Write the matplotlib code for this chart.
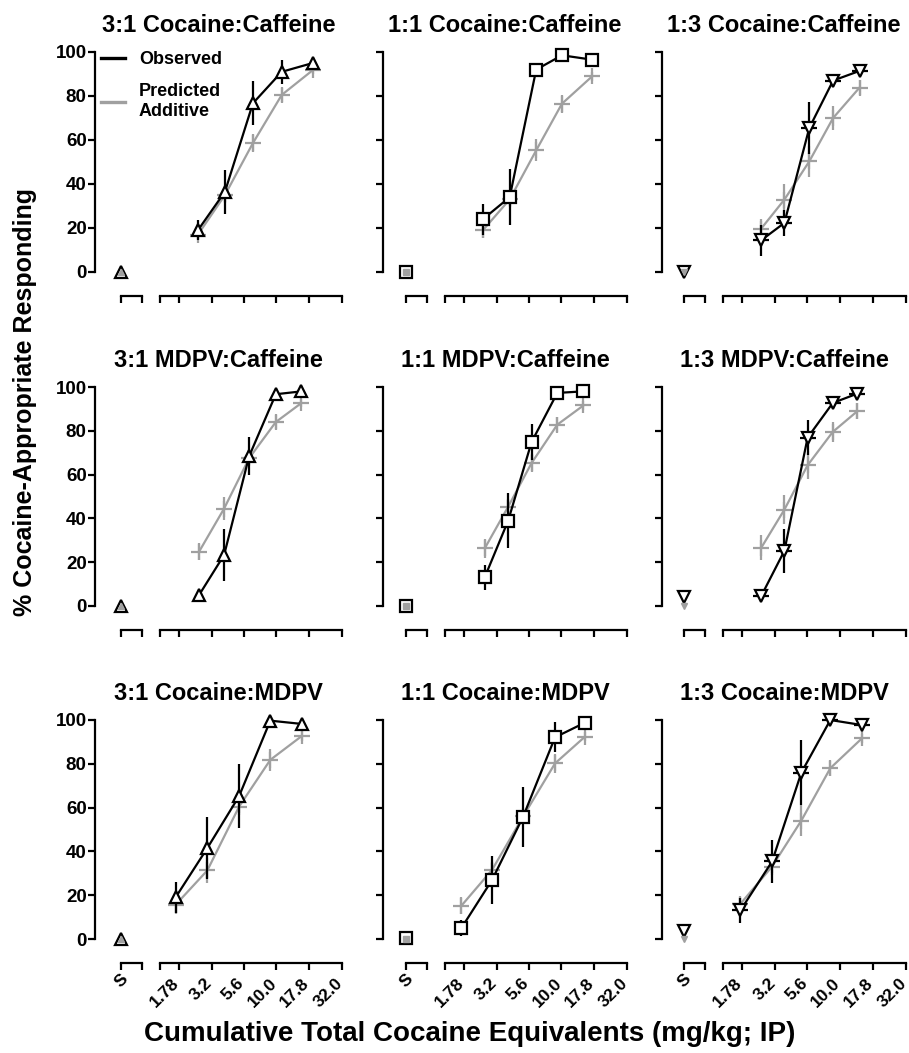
"""Drug-discrimination dose-effect curves for cocaine / MDPV / caffeine mixtures.

3 x 3 grid of panels, GraphPad-style: offset y axis, broken x axis with a
separate "S" (saline) segment and a log-scaled cumulative-dose segment.
Observed = black open symbols, Predicted Additive = grey crosses.
"""
import matplotlib
matplotlib.use("Agg")
import matplotlib.pyplot as plt
from matplotlib.lines import Line2D
from matplotlib.transforms import ScaledTranslation

# ---------------------------------------------------------------------------
# Data
# ---------------------------------------------------------------------------
titles = [
    "3:1 Cocaine:Caffeine", "1:1 Cocaine:Caffeine", "1:3 Cocaine:Caffeine",
    "3:1 MDPV:Caffeine", "1:1 MDPV:Caffeine", "1:3 MDPV:Caffeine",
    "3:1 Cocaine:MDPV", "1:1 Cocaine:MDPV", "1:3 Cocaine:MDPV",
]

dose = [
    [2.49, 4.02, 6.6, 11.0, 19.1],
    [2.49, 4.0, 6.4, 10.1, 17.3],
    [2.49, 3.75, 5.82, 8.85, 14.1],
    [2.54, 3.96, 6.17, 9.9, 15.6],
    [2.57, 3.89, 5.9, 9.3, 14.8],
    [2.50, 3.75, 5.65, 8.8, 13.6],
    [1.68, 2.94, 5.17, 8.98, 15.7],
    [1.70, 2.93, 5.08, 8.94, 15.2],
    [1.73, 3.02, 5.06, 8.43, 14.7],
]

obs = [
    [19, 36.5, 76.7, 91, 95],
    [24, 34, 92, 98.5, 96.5],
    [14.4, 22.3, 65.5, 87, 91.4],
    [5, 23.3, 68.4, 96.7, 98],
    [13.1, 38.9, 74.9, 97.3, 98],
    [4.7, 25.2, 76.9, 92.7, 97],
    [19.1, 41.5, 65.3, 99.7, 98.2],
    [5, 27, 55.9, 92.1, 98.8],
    [13.1, 35.4, 76, 100, 97.7],
]
obs_err = [
    [4.5, 10, 10, 5.5, 1],
    [7, 12.7, 2.5, 0.5, 0.5],
    [7, 6, 11.7, 3, 1],
    [2.5, 11.8, 8.7, 1, 1],
    [5.7, 12.5, 8.4, 0.5, 0.5],
    [1, 10, 8, 2, 1],
    [7, 14, 14.4, 0.5, 1],
    [3.5, 11, 13.7, 6.8, 0.5],
    [5.7, 10, 14.8, 0.5, 1],
]

pred = [
    [17, 35, 58.6, 80.5, 91.8],
    [19, 33, 55.3, 76.5, 89],
    [19.7, 32.9, 50.3, 70, 83.8],
    [24.8, 44.5, 67.5, 84, 92.7],
    [26.3, 45.3, 65.3, 82.8, 91.6],
    [26.7, 44, 64.3, 79.5, 89],
    [15.7, 31.3, 60.5, 81.8, 92.7],
    [15.2, 31.6, 56, 80.2, 92.4],
    [16.1, 33.1, 54.1, 78, 91.6],
]
pred_err = [
    [2, 3, 4, 3, 2],
    [3.5, 3, 5, 4, 2],
    [4.5, 7, 7, 5.5, 3.4],
    [3.8, 5.3, 3, 3, 2],
    [4.5, 3, 4, 3.5, 2],
    [5.7, 6.5, 6.5, 4.5, 3.5],
    [4.5, 5.7, 3, 5, 2.5],
    [3.8, 3, 2, 4.5, 2],
    [3, 3, 7, 3.5, 2],
]

# saline point (S) for each panel
s_obs = [0, 0, 0, 0, 0, 4.2, 0, 0.5, 3.5]
s_pred = [0, 0, 0, 0, 0, 0, 0, 0, 0]

col_markers = ["^", "s", "v"]
dose_ticks = [1.78, 3.2, 5.6, 10.0, 17.8, 32.0]
dose_labels = ["1.78", "3.2", "5.6", "10.0", "17.8", "32.0"]
y_ticks = [0, 20, 40, 60, 80, 100]

# ---------------------------------------------------------------------------
# Layout (pixel positions on a 909 x 1053 canvas)
# ---------------------------------------------------------------------------
W, H, DPI = 909, 1053, 100
ROW_Y100 = [52, 387, 720]
ROW_Y0 = [272, 606, 939]
COL_SPINE = [95, 383, 662]
COL_S = [121, 406, 684]
COL_MAIN = [160, 445, 723]
COL_END = [342, 627, 906]
S_W = 21
X_OFFSET_PX = 24
X_LO = 1.271

GREY = "#a0a0a0"
FONT = ["Liberation Sans", "DejaVu Sans"]
plt.rcParams["font.family"] = FONT
plt.rcParams["font.weight"] = "bold"


def px2pt(px):
    return px * 72.0 / DPI


def style_axes(ax, show_left):
    ax.set_facecolor("none")
    for side in ("top", "right"):
        ax.spines[side].set_visible(False)
    ax.spines["bottom"].set_position(("outward", px2pt(X_OFFSET_PX)))
    ax.spines["bottom"].set_linewidth(1.6)
    if show_left:
        ax.spines["left"].set_linewidth(1.6)
    else:
        ax.spines["left"].set_visible(False)
        ax.tick_params(axis="y", left=False, labelleft=False)
    ax.tick_params(direction="out", length=5, width=1.6, labelsize=13.5)
    ax.tick_params(axis="y", pad=1)
    ax.tick_params(axis="x", pad=8)
    ax.set_ylim(0, 100)


fig = plt.figure(figsize=(W / DPI, H / DPI), dpi=DPI)
bottom_axes = []

for i in range(9):
    r, c = divmod(i, 3)
    y100, y0 = ROW_Y100[r], ROW_Y0[r]
    bottom = 1 - y0 / H
    height = (y0 - y100) / H
    m = col_markers[c]

    # ---- saline segment (carries the y axis) ----------------------------
    ax_s = fig.add_axes([COL_S[c] / W, bottom, S_W / W, height])
    style_axes(ax_s, show_left=True)
    ax_s.spines["left"].set_position(("outward", px2pt(COL_S[c] - COL_SPINE[c])))
    ax_s.set_xlim(0, 1)
    ax_s.set_xticks([0, 1])
    ax_s.set_yticks(y_ticks)
    if c != 0:
        ax_s.tick_params(axis="y", labelleft=False)
    if r == 2:
        ax_s.set_xticklabels(["S", ""], rotation=45, ha="center",
                             rotation_mode="anchor", va="center", fontsize=12.5)
    else:
        ax_s.set_xticklabels(["", ""])
    ax_s.plot([0], [s_obs[i]], marker=m, ms=9, mfc="white", mec="black",
              mew=1.6, ls="none", clip_on=False, zorder=3)
    ax_s.plot([0], [s_pred[i]], marker=m, ms=5, mfc=GREY, mec=GREY,
              ls="none", clip_on=False, zorder=4)

    # ---- cumulative dose segment ----------------------------------------
    ax_m = fig.add_axes([COL_MAIN[c] / W, bottom,
                         (COL_END[c] - COL_MAIN[c]) / W, height])
    style_axes(ax_m, show_left=False)
    ax_m.set_xscale("log")
    ax_m.set_xlim(X_LO, 32)
    ax_m.minorticks_off()
    ax_m.set_xticks([X_LO] + dose_ticks)
    if r == 2:
        ax_m.set_xticklabels([""] + dose_labels, rotation=45, ha="right",
                             rotation_mode="anchor", va="center", fontsize=12.5)
        bottom_axes.append(ax_m)
    else:
        ax_m.set_xticklabels([""] * (len(dose_ticks) + 1))

    ax_m.errorbar(dose[i], pred[i], yerr=pred_err[i], color=GREY, lw=1.6,
                  elinewidth=1.6, capsize=0, marker="+", ms=11, mew=1.6,
                  clip_on=False, zorder=2)
    if c == 2:
        ax_m.plot(dose[i], obs[i], marker="_", ms=12, mew=1.6, color="black",
                  ls="none", clip_on=False, zorder=3)
    ax_m.errorbar(dose[i], obs[i], yerr=obs_err[i], color="black", lw=1.6,
                  elinewidth=1.6, capsize=0, marker=m, ms=9, mfc="white",
                  mec="black", mew=1.6, clip_on=False, zorder=4)

    fig.text((COL_SPINE[c] + COL_END[c]) / 2 / W, 1 - (y100 - 20) / H,
             titles[i], ha="center", va="baseline", fontsize=17,
             fontweight="bold")

# legend in the first panel
handles = [Line2D([], [], color="black", lw=2.4),
           Line2D([], [], color=GREY, lw=2.4)]
fig.legend(handles, ["Observed", "Predicted\nAdditive"], loc="upper left",
           bbox_to_anchor=(101 / W, 1 - 51 / H), frameon=False,
           handlelength=1.35, handletextpad=0.75, labelspacing=0.85,
           borderpad=0, borderaxespad=0, prop={"weight": "bold", "size": 13})

fig.text(25 / W, 1 - 402 / H, "% Cocaine-Appropriate Responding",
         rotation=90, ha="center", va="center", fontsize=18,
         fontweight="bold")
fig.text(470 / W, 1 - 1034 / H,
         "Cumulative Total Cocaine Equivalents (mg/kg; IP)",
         ha="center", va="center", fontsize=20, fontweight="bold")

# nudge the rotated dose labels a touch to the left, as in the original
fig.canvas.draw()
shift = ScaledTranslation(-2 / DPI, 0, fig.dpi_scale_trans)
for ax in bottom_axes:
    for lab in ax.get_xticklabels():
        lab.set_transform(lab.get_transform() + shift)

fig.savefig("out.png", dpi=DPI)
